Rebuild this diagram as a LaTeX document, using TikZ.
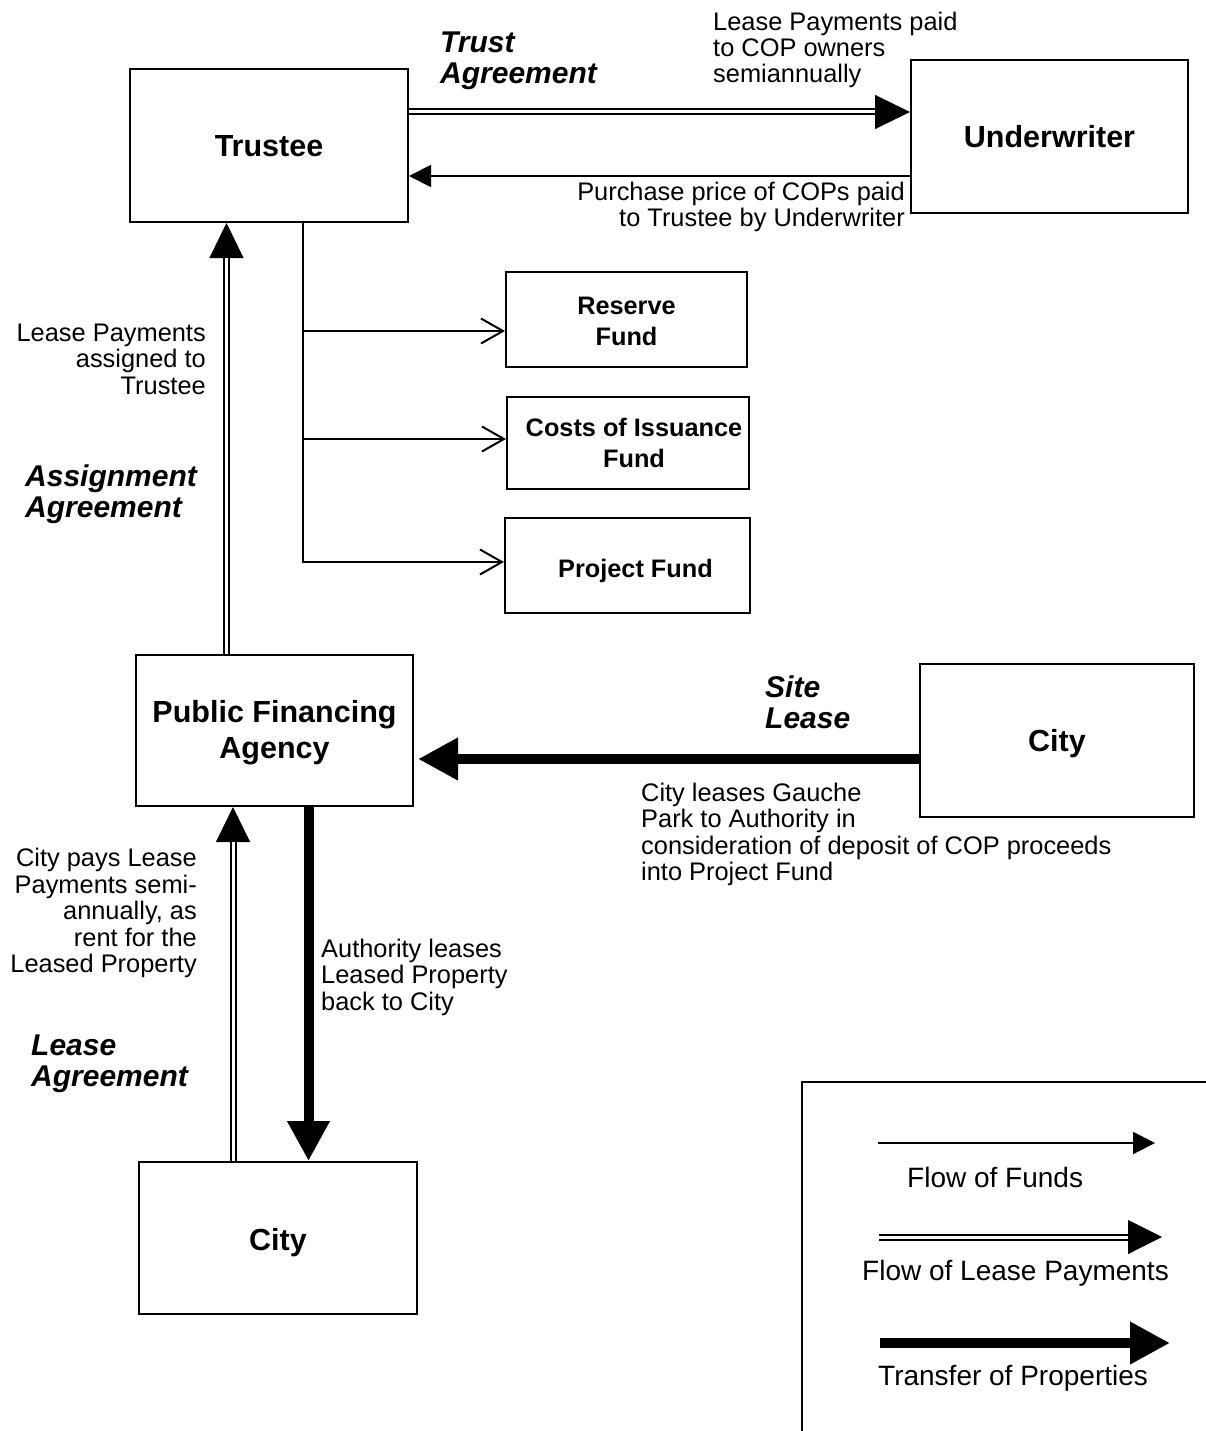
\documentclass[tikz,border=0pt]{standalone}
\usepackage{fontspec}
\setmainfont{Liberation Sans}
\usetikzlibrary{arrows.meta}
\newcommand\leasepay[3]{%
  \draw[lptip=#3] #1 -- #2;
  \draw[lpcore=#3] #1 -- #2;}
\newcommand\lowr[2]{\raisebox{-#1}[\height][\depth]{#2}}
\begin{document}
\begin{tikzpicture}[x=1pt,y=-1pt,
  box/.style={draw, line width=2pt, inner sep=0pt, align=center,
    font=\fontsize{30.5}{36}\selectfont\bfseries},
  fundbox/.style={draw, line width=2pt, inner sep=0pt, align=center,
    font=\fontsize{25.3}{31}\selectfont\bfseries},
  txt/.style={inner sep=0pt, font=\fontsize{25.4}{26.4}\selectfont},
  legtxt/.style={inner sep=0pt, font=\fontsize{28}{30}\selectfont},
  agree/.style={inner sep=0pt, align=left, font=\fontsize{30}{31}\selectfont\bfseries\itshape},
  fundarr/.style={line width=2pt, -{Triangle[length=22pt,width=22pt]}},
  barb/.style={line width=2pt, -{Straight Barb[length=22pt,width=25pt,line width=2pt]}},
  proparr/.style={line width=10pt, -{Triangle[length=40pt,width=40pt]}},
  lpcore/.style={double, double distance=3pt, line width=2pt, shorten >=#1},
  lptip/.style={line width=1pt, -{Triangle[length=#1,width=34pt]}}
]
\useasboundingbox (0,0) rectangle (1206,1431);

% boxes
\node[box, minimum width=278pt, minimum height=153pt] (trustee) at (269,145.5) {\lowr{1pt}{Trustee}};
\node[box, minimum width=277pt, minimum height=153pt] (under) at (1049.5,136.5) {Underwriter};
\node[fundbox, minimum width=241pt, minimum height=95pt] (reserve) at (626.5,319.5) {\lowr{2pt}{Reserve}\\\lowr{2pt}{Fund}};
\node[fundbox, minimum width=242pt, minimum height=92pt] (costs) at (628,443) {\hspace*{12pt}Costs of Issuance\\\hspace*{12pt}Fund};
\node[fundbox, minimum width=245pt, minimum height=95pt] (project) at (627.5,565.5) {\hspace*{16pt}\lowr{5pt}{Project Fund}};
\node[box, minimum width=277pt, minimum height=151pt] (pfa) at (274.5,730.5) {\lowr{2pt}{Public Financing}\\\lowr{2pt}{Agency}};
\node[box, minimum width=274pt, minimum height=153pt] (cityr) at (1057,740.5) {\lowr{3pt}{City}};
\node[box, minimum width=278pt, minimum height=152pt] (cityb) at (278,1238) {\lowr{5pt}{City}};

% Trustee -> Underwriter (lease payments)
\coordinate (tu1) at ([yshift=33.5pt]trustee.east);
\leasepay{(tu1)}{(under.west |- tu1)}{35pt}
% Underwriter -> Trustee (funds)
\coordinate (ut1) at ([yshift=-39.5pt]under.west);
\draw[fundarr] (ut1) -- (trustee.east |- ut1);

% Trustee -> funds
\coordinate (trunk) at ([xshift=33.5pt]trustee.south);
\coordinate (rw) at ([yshift=-11.5pt]reserve.west);
\coordinate (cw) at ([yshift=4pt]costs.west);
\coordinate (pw) at ([yshift=3.5pt]project.west);
\draw[barb] (trunk) |- (pw);
\draw[barb] (trunk |- rw) -- (rw);
\draw[barb] (trunk |- cw) -- (cw);

% PFA -> Trustee (lease payments)
\coordinate (pt1) at ([xshift=-48pt]pfa.north);
\leasepay{(pt1)}{(trustee.south -| pt1)}{35pt}

% City -> PFA (site lease)
\coordinate (cp1) at ([yshift=-18.5pt]cityr.west);
\draw[proparr, shorten >=4pt] (cp1) -- (pfa.east |- cp1);

% PFA -> City (lease back)
\coordinate (pc1) at ([xshift=34pt]pfa.south);
\draw[proparr] (pc1) -- (cityb.north -| pc1);

% City -> PFA (lease payments)
\coordinate (cb1) at ([xshift=-45pt]cityb.north);
\leasepay{(cb1)}{(pfa.south -| cb1)}{35pt}

% texts (base anchor = baseline of the last line)
\node[txt, anchor=base west, align=left] (t1) at (713,83) {Lease Payments paid\\to COP owners\\semiannually};
\node[agree, anchor=base west] (t2) at (440,83.5) {Trust\\Agreement};
\node[txt, anchor=base east, align=right] (t3) at (905,226.5) {Purchase price of COPs paid\\to Trustee by Underwriter};
\node[txt, anchor=base east, align=right] (t4) at (206,394) {Lease Payments\\assigned to\\Trustee};
\node[agree, anchor=base west] (t5) at (25,517.5) {Assignment\\Agreement};
\node[agree, anchor=base west] (t6) at (765,728.5) {Site\\Lease};
\node[txt, anchor=base west, align=left] (t7) at (641,880.5) {City leases Gauche\\Park to Authority in\\consideration of deposit of COP proceeds\\into Project Fund};
\node[txt, anchor=base east, align=right] (t8) at (197,972.5) {City pays Lease\\Payments semi-\\annually, as\\rent for the\\Leased Property};
\node[txt, anchor=base west, align=left] (t9) at (321,1010) {Authority leases\\Leased Property\\back to City};
\node[agree, anchor=base west] (t10) at (31,1086) {Lease\\Agreement};

% legend
\draw[line width=1.8pt] (802,1431) |- (1206,1082);
\coordinate (la1) at (878,1143);
\coordinate (lb1) at (1155,1143);
\draw[fundarr] (la1) -- (lb1);
\coordinate (la2) at (879,1237);
\coordinate (lb2) at (1162,1237);
\leasepay{(la2)}{(lb2)}{34pt}
\coordinate (la3) at (880,1343);
\coordinate (lb3) at (1170,1343);
\draw[proparr] (la3) -- (lb3);
\node[legtxt, anchor=base west] (l1) at (907,1187) {Flow of Funds};
\node[legtxt, anchor=base west] (l2) at (862,1280) {Flow of Lease Payments};
\node[legtxt, anchor=base west] (l3) at (878,1385) {Transfer of Properties};
\end{tikzpicture}
\end{document}
